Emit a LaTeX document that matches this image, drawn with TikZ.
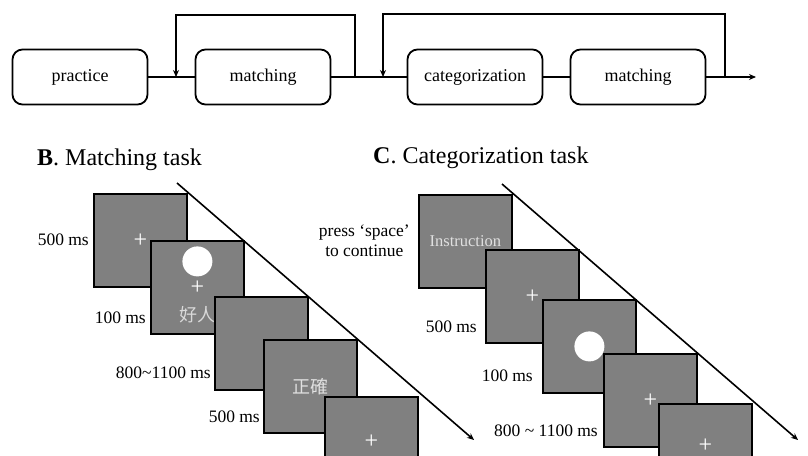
\documentclass[tikz,border=0pt]{standalone}
\usepackage{fontspec}
\setmainfont{Liberation Serif}
\newfontfamily\cjkfont{Noto Sans CJK TC}
\usetikzlibrary{arrows.meta}
\tikzset{
  topbox/.style={draw, line width=1.8pt, rounded corners=10pt, minimum width=135pt, minimum height=55pt, inner sep=0pt, font=\fontsize{18}{20}\selectfont},
  screen/.style={draw, fill=black!50, line width=1.8pt, minimum width=93pt, minimum height=93pt, inner sep=0pt, anchor=north west, text=white!88!black},
  flow/.style={line width=1.4pt},
  loopline/.style={line width=1.4pt, -{Stealth[length=7pt,width=6pt]}},
  diag/.style={line width=1.6pt, -{Stealth[length=7pt,width=6pt]}},
  lbl/.style={anchor=east, inner sep=1pt, font=\fontsize{17.5}{20}\selectfont},
  ttl/.style={anchor=west, inner sep=0pt, font=\fontsize{24}{26}\selectfont},
  plus/.style={inner sep=0pt, font=\fontsize{24}{24}\selectfont},
}
\begin{document}
\begin{tikzpicture}[x=1pt, y=-1pt]
\useasboundingbox (0,0) rectangle (808,455);
\begin{scope}
\clip (0,0) rectangle (808,455);
% ---- top flow ----
\node[topbox] (pr) at (80,77) {practice};
\node[topbox] (m1) at (263,77) {matching};
\node[topbox] (ca) at (475,77) {categorization};
\node[topbox] (m2) at (638,77) {matching};
\coordinate (j1) at (355,77);
\coordinate (t1a) at (355,15);
\coordinate (t1b) at (176,15);
\coordinate (a1) at (176,77);
\coordinate (j2) at (725,77);
\coordinate (t2a) at (725,14);
\coordinate (t2b) at (383,14);
\coordinate (a2) at (383,77);
\coordinate (endp) at (756,77);
\draw[flow] (pr.east) -- (m1.west);
\draw[flow] (m1.east) -- (ca.west);
\draw[flow] (ca.east) -- (m2.west);
\draw[flow, -{Stealth[length=7pt,width=6pt]}] (m2.east) -- (endp);
\draw[loopline] (j1) -- (t1a) -- (t1b) -- (a1);
\draw[loopline] (j2) -- (t2a) -- (t2b) -- (a2);
% ---- titles ----
\node[ttl] (tb) at (37,160) {\textbf{B}. Matching task};
\node[ttl] (tc) at (373,158) {\textbf{C}. Categorization task};
% ---- B screens ----
\node[screen] (b1) at (93,193) {};
\node[plus, text=white] (b1p) at (b1.center) {+};
\node[screen] (b2) at (150,240) {};
\fill[white] ([yshift=26pt]b2.center) circle (15pt);
\node[plus, text=white] (b2p) at (b2.center) {+};
\node[text=white!85!black, font=\cjkfont\fontsize{18}{20}\selectfont] (b2t) at ([yshift=-27pt]b2.center) {好人};
\node[screen] (b3) at (214,296) {};
\node[screen, font=\cjkfont\fontsize{18}{20}\selectfont] (b4) at (263,339) {正確};
\node[screen] (b5) at (324,396) {};
\node[plus, text=white] (b5p) at ([yshift=2pt]b5.center) {+};
\coordinate (bd1) at (177,183);
\coordinate (bd2) at (474,440);
\draw[diag] (bd1) -- (bd2);
\node[lbl] (lb1) at (90,240) {500 ms};
\node[lbl] (lb2) at (147,318) {100 ms};
\node[lbl] (lb3) at (212,373) {800\char"007E 1100 ms};
\node[lbl] (lb4) at (261,417) {500 ms};
% ---- C screens ----
\node[screen, font=\fontsize{16.5}{18}\selectfont] (c1) at (418,194) {Instruction};
\node[screen] (c2) at (485,249) {};
\node[plus, text=white] (c2p) at (c2.center) {+};
\node[screen] (c3) at (542,299) {};
\fill[white] (c3.center) circle (15pt);
\node[screen] (c4) at (603,353) {};
\node[plus, text=white] (c4p) at (c4.center) {+};
\node[screen] (c5) at (658,403) {};
\node[plus, text=white] (c5p) at ([yshift=5pt]c5.center) {+};
\coordinate (cd1) at (502,184);
\coordinate (cd2) at (798,440);
\draw[diag] (cd1) -- (cd2);
\node[lbl, align=center] (lc1) at (411,241) {press `space'\\to continue};
\node[lbl] (lc2) at (478,327) {500 ms};
\node[lbl] (lc3) at (534,376) {100 ms};
\node[lbl] (lc4) at (599,431) {800 \char"007E{} 1100 ms};
\end{scope}
\end{tikzpicture}
\end{document}
